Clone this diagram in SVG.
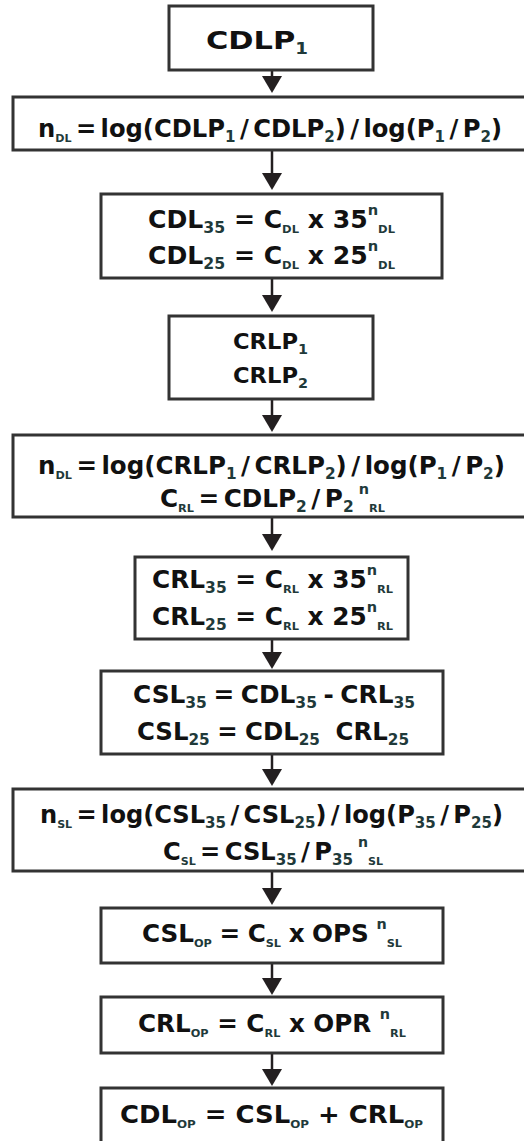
<svg xmlns="http://www.w3.org/2000/svg" width="524" height="1141" viewBox="0 0 524 1141">
<style>
.box{fill:#fff;stroke:#333;stroke-width:3}
.t{font-family:"DejaVu Sans","Liberation Sans",sans-serif;font-weight:bold;font-size:24px;fill:#111}
.w{word-spacing:-4px}
.sd{font-size:15px;fill:#1f3a3a}
.sl{font-size:11px;fill:#1f3a3a}
.sp{font-size:14px;fill:#1f3a3a}
.conn line{stroke:#231f20;stroke-width:2.5}
</style>
<defs>
<marker id="ah" viewBox="0 0 17 20" refX="0" refY="10" markerWidth="17" markerHeight="20" markerUnits="userSpaceOnUse" orient="auto">
<path d="M0,0 L17,10 L0,20 z" fill="#231f20"/>
</marker>
</defs>
<rect width="524" height="1141" fill="#fff"/>
<g class="conn">
<line x1="272" y1="70" x2="272" y2="76" marker-end="url(#ah)"/>
<line x1="272" y1="150" x2="272" y2="173" marker-end="url(#ah)"/>
<line x1="272" y1="278" x2="272" y2="295" marker-end="url(#ah)"/>
<line x1="272" y1="399" x2="272" y2="415" marker-end="url(#ah)"/>
<line x1="272" y1="517" x2="272" y2="534" marker-end="url(#ah)"/>
<line x1="272" y1="639" x2="272" y2="652" marker-end="url(#ah)"/>
<line x1="272" y1="754" x2="272" y2="769" marker-end="url(#ah)"/>
<line x1="272" y1="871" x2="272" y2="888" marker-end="url(#ah)"/>
<line x1="272" y1="963" x2="272" y2="978" marker-end="url(#ah)"/>
<line x1="272" y1="1053" x2="272" y2="1069" marker-end="url(#ah)"/>
</g>
<g id="n1">
<rect class="box" x="169" y="6" width="204" height="64"/>
<text class="t" x="206" y="49" style="font-size:25px" textLength="102" lengthAdjust="spacingAndGlyphs">CDLP<tspan class="sd" y="54">1</tspan></text>
</g>
<g id="n2">
<rect class="box" x="13" y="97" width="518" height="53"/>
<text class="t w" x="38" y="137" textLength="464" lengthAdjust="spacingAndGlyphs">n<tspan class="sl" y="142">DL</tspan><tspan y="137"> = log(CDLP</tspan><tspan class="sd" y="142">1</tspan><tspan y="137"> / CDLP</tspan><tspan class="sd" y="142">2</tspan><tspan y="137">) / log(P</tspan><tspan class="sd" y="142">1</tspan><tspan y="137"> / P</tspan><tspan class="sd" y="142">2</tspan><tspan y="137">)</tspan></text>
</g>
<g id="n3">
<rect class="box" x="101" y="194" width="341" height="84"/>
<text class="t" x="148" y="228" textLength="247" lengthAdjust="spacingAndGlyphs">CDL<tspan class="sd" y="233">35</tspan><tspan y="228"> = C</tspan><tspan class="sl" y="233">DL</tspan><tspan y="228"> x 35</tspan><tspan class="sp" y="215">n</tspan><tspan class="sl" y="233">DL</tspan></text>
<text class="t" x="148" y="264" textLength="247" lengthAdjust="spacingAndGlyphs">CDL<tspan class="sd" y="269">25</tspan><tspan y="264"> = C</tspan><tspan class="sl" y="269">DL</tspan><tspan y="264"> x 25</tspan><tspan class="sp" y="251">n</tspan><tspan class="sl" y="269">DL</tspan></text>
</g>
<g id="n4">
<rect class="box" x="169" y="316" width="204" height="83"/>
<text class="t" x="233" y="349" style="font-size:22px" textLength="75" lengthAdjust="spacingAndGlyphs">CRLP<tspan class="sd" style="font-size:14px" y="354">1</tspan></text>
<text class="t" x="233" y="383" style="font-size:22px" textLength="75" lengthAdjust="spacingAndGlyphs">CRLP<tspan class="sd" style="font-size:14px" y="388">2</tspan></text>
</g>
<g id="n5">
<rect class="box" x="13" y="435" width="518" height="82"/>
<text class="t w" x="38" y="474" textLength="467" lengthAdjust="spacingAndGlyphs">n<tspan class="sl" y="479">DL</tspan><tspan y="474"> = log(CRLP</tspan><tspan class="sd" y="479">1</tspan><tspan y="474"> / CRLP</tspan><tspan class="sd" y="479">2</tspan><tspan y="474">) / log(P</tspan><tspan class="sd" y="479">1</tspan><tspan y="474"> / P</tspan><tspan class="sd" y="479">2</tspan><tspan y="474">)</tspan></text>
<text class="t w" x="160" y="507" textLength="225" lengthAdjust="spacingAndGlyphs">C<tspan class="sl" y="512">RL</tspan><tspan y="507"> = CDLP</tspan><tspan class="sd" y="512">2</tspan><tspan y="507"> / P</tspan><tspan class="sd" y="512">2</tspan><tspan class="sp" dx="5" y="494">n</tspan><tspan class="sl" y="512">RL</tspan></text>
</g>
<g id="n6">
<rect class="box" x="135" y="557" width="273" height="82"/>
<text class="t" x="152" y="588" textLength="241" lengthAdjust="spacingAndGlyphs">CRL<tspan class="sd" y="593">35</tspan><tspan y="588"> = C</tspan><tspan class="sl" y="593">RL</tspan><tspan y="588"> x 35</tspan><tspan class="sp" y="575">n</tspan><tspan class="sl" y="593">RL</tspan></text>
<text class="t" x="152" y="625" textLength="241" lengthAdjust="spacingAndGlyphs">CRL<tspan class="sd" y="630">25</tspan><tspan y="625"> = C</tspan><tspan class="sl" y="630">RL</tspan><tspan y="625"> x 25</tspan><tspan class="sp" y="612">n</tspan><tspan class="sl" y="630">RL</tspan></text>
</g>
<g id="n7">
<rect class="box" x="101" y="671" width="342" height="83"/>
<text class="t" x="133" y="703" style="word-spacing:-2px" textLength="282" lengthAdjust="spacingAndGlyphs">CSL<tspan class="sd" y="708">35</tspan><tspan y="703"> = CDL</tspan><tspan class="sd" y="708">35</tspan><tspan y="703"> - CRL</tspan><tspan class="sd" y="708">35</tspan></text>
<text class="t" x="137" y="740" style="word-spacing:-1px" textLength="272" lengthAdjust="spacingAndGlyphs">CSL<tspan class="sd" y="745">25</tspan><tspan y="740"> = CDL</tspan><tspan class="sd" y="745">25</tspan><tspan y="740" dx="8"> CRL</tspan><tspan class="sd" y="745">25</tspan></text>
</g>
<g id="n8">
<rect class="box" x="13" y="789" width="518" height="82"/>
<text class="t w" x="40" y="823" textLength="463" lengthAdjust="spacingAndGlyphs">n<tspan class="sl" y="828">SL</tspan><tspan y="823"> = log(CSL</tspan><tspan class="sd" y="828">35</tspan><tspan y="823"> / CSL</tspan><tspan class="sd" y="828">25</tspan><tspan y="823">) / log(P</tspan><tspan class="sd" y="828">35</tspan><tspan y="823"> / P</tspan><tspan class="sd" y="828">25</tspan><tspan y="823">)</tspan></text>
<text class="t w" x="163" y="860" textLength="220" lengthAdjust="spacingAndGlyphs">C<tspan class="sl" y="865">SL</tspan><tspan y="860"> = CSL</tspan><tspan class="sd" y="865">35</tspan><tspan y="860"> / P</tspan><tspan class="sd" y="865">35</tspan><tspan class="sp" dx="5" y="847">n</tspan><tspan class="sl" y="865">SL</tspan></text>
</g>
<g id="n9">
<rect class="box" x="101" y="908" width="342" height="55"/>
<text class="t" x="142" y="942" style="word-spacing:-1px" textLength="260" lengthAdjust="spacingAndGlyphs">CSL<tspan class="sl" y="947">OP</tspan><tspan y="942"> = C</tspan><tspan class="sl" y="947">SL</tspan><tspan y="942"> x OPS </tspan><tspan class="sp" y="929">n</tspan><tspan class="sl" y="947">SL</tspan></text>
</g>
<g id="n10">
<rect class="box" x="101" y="997" width="342" height="56"/>
<text class="t" x="138" y="1032" textLength="268" lengthAdjust="spacingAndGlyphs">CRL<tspan class="sl" y="1037">OP</tspan><tspan y="1032"> = C</tspan><tspan class="sl" y="1037">RL</tspan><tspan y="1032"> x OPR </tspan><tspan class="sp" y="1019">n</tspan><tspan class="sl" y="1037">RL</tspan></text>
</g>
<g id="n11">
<rect class="box" x="101" y="1088" width="342" height="70"/>
<text class="t" x="120" y="1123" textLength="303" lengthAdjust="spacingAndGlyphs">CDL<tspan class="sl" y="1128">OP</tspan><tspan y="1123"> = CSL</tspan><tspan class="sl" y="1128">OP</tspan><tspan y="1123"> + CRL</tspan><tspan class="sl" y="1128">OP</tspan></text>
</g>
</svg>
